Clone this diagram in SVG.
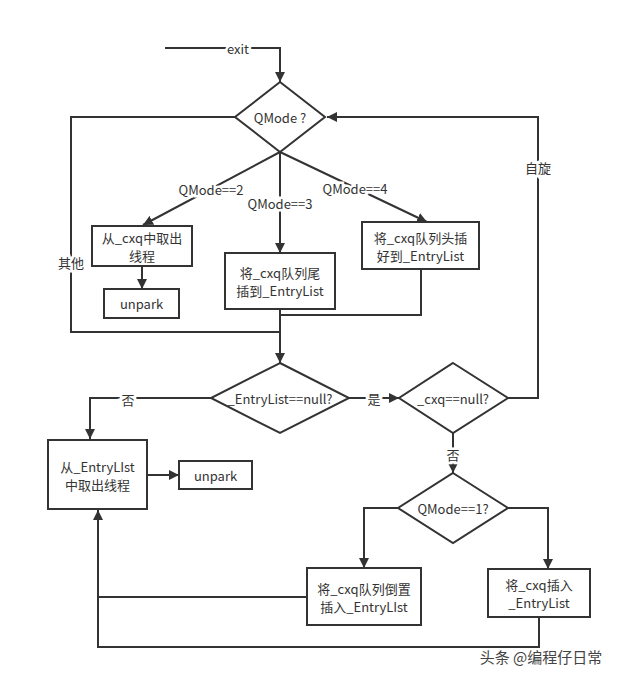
<svg xmlns="http://www.w3.org/2000/svg" width="621" height="678" viewBox="0 0 621 678">
<style>
.ln{fill:none;stroke:#333;stroke-width:2}
.nd{fill:#fff;stroke:#333;stroke-width:2}
text{font-family:"Noto Sans CJK SC","Liberation Sans",sans-serif;font-size:13px;fill:#333;text-anchor:middle;dominant-baseline:central}
.lb{paint-order:stroke;stroke:#fff;stroke-width:5px}
.wm{font-size:15px;fill:#444;paint-order:stroke;stroke:#fff;stroke-width:3px}
</style>
<defs>
<marker id="ah" viewBox="0 0 10 10" refX="10" refY="5" markerWidth="10" markerHeight="10" markerUnits="userSpaceOnUse" orient="auto">
<path d="M0,0 L10,5 L0,10 z" fill="#333"/>
</marker>
</defs>
<rect width="621" height="678" fill="#fff"/>
<g id="connectors">
<polyline class="ln" points="165,48 280,48 280,82" marker-end="url(#ah)"/>
<polyline class="ln" points="235,117 71,117 71,332 280,332"/>
<polyline class="ln" points="508,398 538,398 538,117 327,117" marker-end="url(#ah)"/>
<line class="ln" x1="280" y1="152" x2="143" y2="225" marker-end="url(#ah)"/>
<line class="ln" x1="280" y1="152" x2="280" y2="253" marker-end="url(#ah)"/>
<line class="ln" x1="280" y1="152" x2="427" y2="222" marker-end="url(#ah)"/>
<line class="ln" x1="142" y1="266" x2="142" y2="289" marker-end="url(#ah)"/>
<polyline class="ln" points="421,269 421,315 280,315"/>
<line class="ln" x1="280" y1="309" x2="280" y2="363" marker-end="url(#ah)"/>
<polyline class="ln" points="211,398 90,398 90,439" marker-end="url(#ah)"/>
<line class="ln" x1="349" y1="398" x2="399" y2="398" marker-end="url(#ah)"/>
<line class="ln" x1="147" y1="475" x2="179" y2="475" marker-end="url(#ah)"/>
<line class="ln" x1="453" y1="433" x2="453" y2="473" marker-end="url(#ah)"/>
<polyline class="ln" points="398,508 364,508 364,568" marker-end="url(#ah)"/>
<polyline class="ln" points="508,508 548,508 548,569" marker-end="url(#ah)"/>
<polyline class="ln" points="307,597 98,597"/>
<polyline class="ln" points="539,617 539,647 98,647 98,510" marker-end="url(#ah)"/>
<text class="lb" x="238" y="48">exit</text>
<text class="lb" x="538" y="167">自旋</text>
<text class="lb" x="211" y="189">QMode==2</text>
<text class="lb" x="280" y="203">QMode==3</text>
<text class="lb" x="355" y="188">QMode==4</text>
<text class="lb" x="71" y="262">其他</text>
<text class="lb" x="128" y="399">否</text>
<text class="lb" x="374" y="398">是</text>
<text class="lb" x="453" y="454">否</text>
</g>
<g id="qmode">
<polygon class="nd" points="280,82 325,117 280,152 235,117"/>
<text x="280" y="117">QMode ?</text>
</g>
<g id="take-cxq">
<rect class="nd" x="92" y="226" width="100" height="40"/>
<text x="142" y="237">从_cxq中取出</text>
<text x="142" y="255">线程</text>
</g>
<g id="unpark1">
<rect class="nd" x="104" y="289" width="75" height="29"/>
<text x="141.5" y="303.5">unpark</text>
</g>
<g id="tail-insert">
<rect class="nd" x="225" y="253" width="110" height="56"/>
<text x="280" y="272">将_cxq队列尾</text>
<text x="280" y="290">插到_EntryList</text>
</g>
<g id="head-insert">
<rect class="nd" x="362" y="222" width="117" height="47"/>
<text x="420.5" y="237">将_cxq队列头插</text>
<text x="420.5" y="255">好到_EntryList</text>
</g>
<g id="entrylist-null">
<polygon class="nd" points="280,363 349,398 280,433 211,398"/>
<text x="280" y="398">_EntryList==null?</text>
</g>
<g id="cxq-null">
<polygon class="nd" points="453,363 508,398 453,433 399,398"/>
<text x="453" y="398">_cxq==null?</text>
</g>
<g id="take-entrylist">
<rect class="nd" x="48" y="440" width="99" height="69"/>
<text x="97.5" y="466">从_EntryLIst</text>
<text x="97.5" y="484">中取出线程</text>
</g>
<g id="unpark2">
<rect class="nd" x="179" y="461" width="73" height="28"/>
<text x="215.5" y="475">unpark</text>
</g>
<g id="qmode1">
<polygon class="nd" points="453,473 508,508 453,543 398,508"/>
<text x="453" y="508">QMode==1?</text>
</g>
<g id="reverse-insert">
<rect class="nd" x="307" y="568" width="114" height="57"/>
<text x="364" y="588">将_cxq队列倒置</text>
<text x="364" y="606">插入_EntryLIst</text>
</g>
<g id="cxq-insert">
<rect class="nd" x="488" y="569" width="102" height="48"/>
<text x="539" y="584">将_cxq插入</text>
<text x="539" y="602">_EntryList</text>
</g>
<text class="wm" x="541" y="656">头条 @编程仔日常</text>
</svg>
